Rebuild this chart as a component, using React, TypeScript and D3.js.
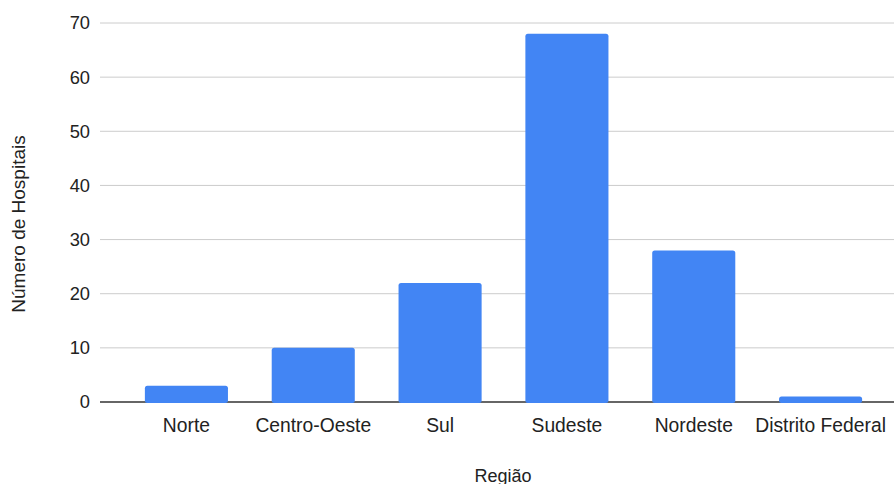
import React from "react";
import * as d3 from "d3";

const regions = ["Norte", "Centro-Oeste", "Sul", "Sudeste", "Nordeste", "Distrito Federal"];
const hospitals = [3, 10, 22, 68, 28, 1];
const yTicks = [0, 10, 20, 30, 40, 50, 60, 70];

const W = 894;
const H = 484;
const FONT = "Arial, 'Liberation Sans', sans-serif";

export default function App() {
  const x = d3
    .scaleBand<string>()
    .domain(regions)
    .range([123, 884])
    .paddingInner(0.345)
    .paddingOuter(0.1725);
  const y = d3.scaleLinear().domain([0, 70]).range([402, 23]);

  const gridLeft = 100;
  const gridRight = 894;

  return (
    <svg width={W} height={H} style={{ display: "block", position: "absolute", left: 0, top: 0 }}>
      <rect width={W} height={H} fill="#ffffff" />
      {yTicks.map((t) => (
        <g key={t}>
          {t !== 0 && (
            <line x1={gridLeft} x2={gridRight} y1={y(t)} y2={y(t)} stroke="#cccccc" strokeWidth={1} />
          )}
          <text
            x={90}
            y={y(t)}
            dy="0.35em"
            textAnchor="end"
            fontFamily={FONT}
            fontSize={18.3}
            fill="#222222"
          >
            {t}
          </text>
        </g>
      ))}
      <line x1={gridLeft} x2={gridRight} y1={y(0)} y2={y(0)} stroke="#333333" strokeWidth={1.3} />
      {regions.map((r, i) => {
        const bx = x(r)!;
        const by = y(hospitals[i]);
        const bh = y(0) - by + 1;
        return <rect key={r} x={bx} y={by} width={x.bandwidth()} height={bh} rx={2.5} fill="#4285f4" />;
      })}
      {regions.map((r) => (
        <text
          key={r}
          x={x(r)! + x.bandwidth() / 2}
          y={431.5}
          textAnchor="middle"
          fontFamily={FONT}
          fontSize={19.3}
          fill="#222222"
        >
          {r}
        </text>
      ))}
      <text x={503} y={481.5} textAnchor="middle" fontFamily={FONT} fontSize={18} fill="#222222">
        Região
      </text>
      <text
        transform="translate(25,224) rotate(-90)"
        textAnchor="middle"
        fontFamily={FONT}
        fontSize={19}
        fill="#222222"
      >
        Número de Hospitais
      </text>
    </svg>
  );
}
